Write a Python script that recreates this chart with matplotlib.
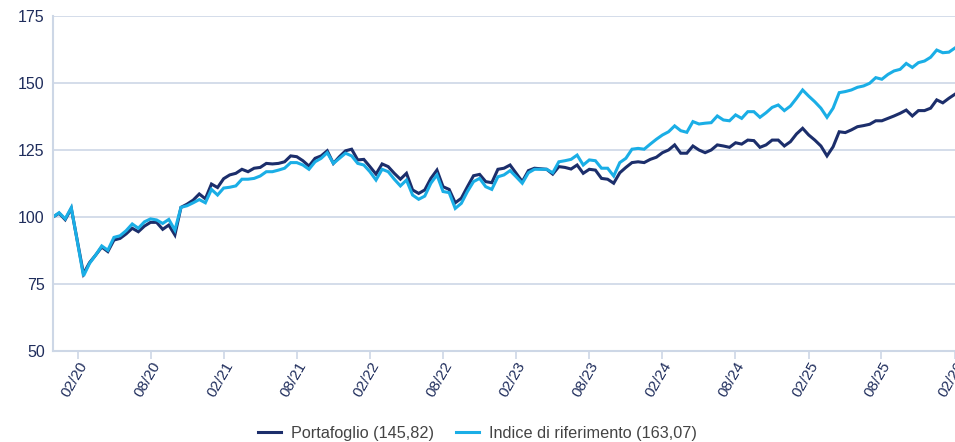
import pandas as pd
import matplotlib.pyplot as plt
import matplotlib.dates as mdates

# Semi-monthly values (Dec 2019 -> Feb 2026)
portafoglio = [
    100.0, 101.4, 99.0, 103.2, 91.0, 78.8, 83.0, 85.8, 88.8, 87.1, 91.4,
    92.0, 93.7, 95.8, 94.5, 96.6, 98.0, 98.0, 95.4, 97.0, 93.3,
    103.6, 104.8, 106.3, 108.6, 106.8, 112.3, 111.0, 114.3, 115.7, 116.3,
    117.8, 116.9, 118.2, 118.5, 120.0, 119.8, 120.0, 120.6, 122.8, 122.5,
    121.0, 119.0, 121.9, 122.8, 124.7, 120.0, 122.5, 124.7, 125.3, 121.3,
    121.5, 118.8, 116.0, 119.8, 118.8, 116.3, 114.1, 116.3, 110.1, 108.8,
    110.1, 114.4, 117.5, 111.3, 110.3, 105.3, 107.0, 111.3, 115.4, 115.9,
    113.2, 112.8, 117.8, 118.2, 119.4, 116.3, 113.2, 117.3, 118.2, 118.0,
    117.8, 116.0, 118.8, 118.5, 117.9, 119.4, 116.3, 117.8, 117.5, 114.4,
    114.1, 112.6, 116.5, 118.5, 120.3, 120.6, 120.3, 121.5, 122.3, 124.0,
    125.0, 126.9, 123.8, 123.8, 126.5, 125.0, 124.0, 125.0, 126.9, 126.5,
    126.0, 127.7, 127.2, 128.7, 128.5, 126.0, 126.9, 128.7, 128.7, 126.5,
    128.1, 131.0, 133.1, 130.6, 128.7, 126.5, 122.8, 126.2, 131.8, 131.5,
    132.5, 133.7, 134.1, 134.6, 135.9, 135.9, 136.8, 137.7, 138.7, 139.9,
    137.7, 139.7, 139.7, 140.6, 143.7, 142.6, 144.3, 145.82,
]
indice = [
    100.0, 101.6, 99.3, 103.5, 90.8, 78.0, 82.7, 85.8, 89.2, 87.6, 92.4,
    93.0, 94.9, 97.4, 95.8, 98.2, 99.3, 98.9, 97.6, 99.1, 95.1,
    103.6, 104.2, 105.3, 106.5, 105.3, 110.3, 108.2, 110.8, 111.1, 111.6,
    114.1, 114.1, 114.4, 115.3, 116.9, 116.9, 117.5, 118.2, 120.3, 120.3,
    119.4, 117.8, 120.6, 121.9, 124.0, 120.0, 121.9, 123.8, 122.8, 120.0,
    119.4, 116.9, 113.8, 117.8, 116.9, 114.1, 111.6, 113.8, 108.2, 106.6,
    107.8, 112.6, 115.7, 109.5, 109.1, 103.2, 105.1, 109.5, 113.2, 114.4,
    111.3, 110.3, 115.0, 115.7, 117.3, 115.0, 112.6, 116.5, 117.8, 117.8,
    117.8, 116.5, 120.6, 121.0, 121.5, 123.1, 119.4, 121.3, 121.0, 118.2,
    118.2, 115.3, 120.3, 121.9, 125.3, 125.6, 125.3, 127.2, 129.0, 130.6,
    131.8, 134.0, 132.2, 131.6, 135.6, 134.7, 135.0, 135.2, 137.7, 136.2,
    135.9, 138.1, 136.8, 139.3, 139.3, 137.2, 138.9, 140.9, 141.8, 139.7,
    141.4, 144.3, 147.4, 145.1, 143.0, 140.6, 137.2, 140.6, 146.4, 146.8,
    147.4, 148.4, 148.9, 149.9, 152.0, 151.4, 153.2, 154.5, 155.1, 157.3,
    155.8, 157.6, 158.2, 159.6, 162.3, 161.3, 161.5, 163.07,
]
dates = pd.date_range("2019-12-01", "2026-02-01", periods=len(portafoglio))

y_ticks = [50, 75, 100, 125, 150, 175]
labels = ["Portafoglio (145,82)", "Indice di riferimento (163,07)"]

navy = "#1c2e6b"
light = "#1aaee6"
grid_c = "#cdd7e6"
text_c = "#1f2d5c"

plt.rcParams["font.family"] = ["Liberation Sans", "DejaVu Sans"]

fig = plt.figure(figsize=(9.55, 4.42), dpi=100)
ax = fig.add_axes([53 / 955, 91 / 442, 902 / 955, 335 / 442])

ax.plot(dates, portafoglio, color=navy, lw=2.2, label=labels[0], solid_joinstyle="miter")
ax.plot(dates, indice, color=light, lw=2.2, label=labels[1], solid_joinstyle="miter")

ax.set_ylim(50, 175)
ax.set_yticks(y_ticks)
ax.set_xlim(dates[0], dates[-1] + pd.Timedelta(hours=1))
ax.xaxis.set_major_locator(mdates.MonthLocator(bymonth=[2, 8]))
ax.xaxis.set_major_formatter(mdates.DateFormatter("%m/%y"))

ax.grid(axis="y", color=grid_c, lw=1.2)
ax.set_axisbelow(True)
for s in ["top", "right"]:
    ax.spines[s].set_visible(False)
for s in ["left", "bottom"]:
    ax.spines[s].set_color(grid_c)
    ax.spines[s].set_linewidth(1.5)

ax.tick_params(axis="y", length=0, pad=6, labelsize=11.5, labelcolor=text_c)
ax.tick_params(axis="x", length=6, width=1.2, color=grid_c, labelsize=11,
               labelcolor=text_c, pad=0)
for lab in ax.get_xticklabels():
    lab.set_rotation(60)
    lab.set_ha("right")
    lab.set_rotation_mode("anchor")

fig.legend(loc="lower center", bbox_to_anchor=(0.5, -0.03), ncol=2, frameon=False,
           fontsize=11.7, labelcolor="#444444", handlelength=1.4, columnspacing=1.4,
           handletextpad=0.6)

fig.savefig("out.png", dpi=100)
